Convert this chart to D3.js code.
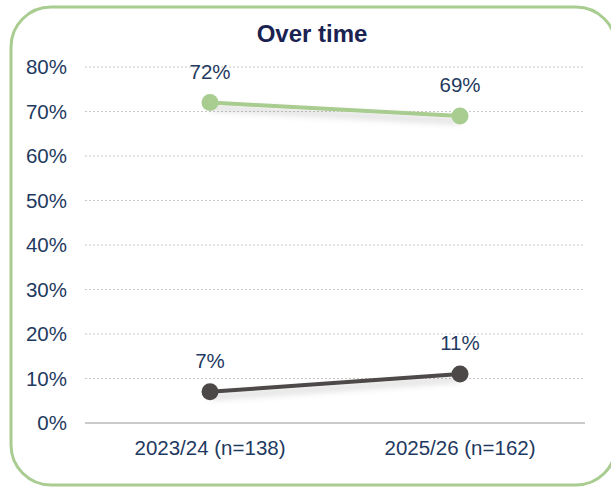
<!DOCTYPE html>
<html>
<head>
<meta charset="utf-8">
<script src="https://cdn.jsdelivr.net/npm/d3@7"></script>
<style>
  html, body { margin: 0; padding: 0; background: #fff; }
  svg { display: block; font-family: "Liberation Sans", Arial, sans-serif; }
</style>
</head>
<body>
<svg id="chart" width="611" height="487"></svg>
<script>
// Survey periods and the two tracked shares (percent)
const periods = ["2023/24 (n=138)", "2025/26 (n=162)"];
const upperSeries = [72, 69];
const lowerSeries = [7, 11];
const yTicks = [0, 10, 20, 30, 40, 50, 60, 70, 80];
const title = "Over time";

const svg = d3.select("#chart");
const plot = { left: 85, right: 585, top: 67, bottom: 423 };

const textColor = "#1f3a60";
const greenColor = "#a9cc90";
const darkColor = "#4d4848";
const fontFamily = "Liberation Sans, Arial, sans-serif";
const labelSize = 20.5;

// Soft drop shadow under the lines
const defs = svg.append("defs");
const f = defs.append("filter").attr("id", "shadow")
  .attr("x", "-10%").attr("y", "-60%").attr("width", "120%").attr("height", "300%");
f.append("feDropShadow").attr("dx", 0).attr("dy", 5).attr("stdDeviation", 3.5)
  .attr("flood-color", "#000").attr("flood-opacity", 0.2);

// Rounded frame (runs slightly past the right edge)
svg.append("rect")
  .attr("x", 11).attr("y", 7).attr("width", 605).attr("height", 478)
  .attr("rx", 40).attr("ry", 40)
  .attr("fill", "#fff").attr("stroke", greenColor).attr("stroke-width", 3);

const x = d3.scaleBand().domain(periods).range([plot.left, plot.right]);
const y = d3.scaleLinear().domain([0, 80]).range([plot.bottom, plot.top]);

// Title
svg.append("text")
  .attr("x", 312).attr("y", 42)
  .attr("text-anchor", "middle")
  .attr("font-size", 24).attr("font-weight", "bold")
  .attr("fill", "#1a2251")
  .text(title);

// Dotted gridlines
svg.append("g").selectAll("line")
  .data(yTicks.filter(d => d > 0))
  .join("line")
  .attr("x1", plot.left).attr("x2", plot.right - 2)
  .attr("y1", d => y(d)).attr("y2", d => y(d))
  .attr("stroke", "#c8c8c8").attr("stroke-width", 1)
  .attr("stroke-dasharray", "2,2");

// Baseline
svg.append("line")
  .attr("x1", plot.left).attr("x2", plot.right)
  .attr("y1", y(0)).attr("y2", y(0))
  .attr("stroke", "#bdb8b8").attr("stroke-width", 1.5);

// Y axis labels
const yAxis = d3.axisLeft(y).tickValues(yTicks).tickFormat(d => d + "%").tickSize(0).tickPadding(0);
const yg = svg.append("g").attr("transform", `translate(${plot.left - 18},0)`).call(yAxis);
yg.select(".domain").remove();
yg.selectAll("text").attr("font-size", labelSize).attr("fill", textColor)
  .attr("font-family", fontFamily);

// X axis labels
const xAxis = d3.axisBottom(x).tickSize(0).tickPadding(0);
const xg = svg.append("g").attr("transform", `translate(0,${y(0)})`).call(xAxis);
xg.select(".domain").remove();
xg.selectAll("text").attr("font-size", labelSize).attr("fill", textColor)
  .attr("font-family", fontFamily).attr("y", 32).attr("dy", null);

const cx = d => x(d) + x.bandwidth() / 2;
const line = d3.line().x(d => cx(d.p)).y(d => y(d.v));

function drawSeries(values, color) {
  const pts = periods.map((p, i) => ({ p, v: values[i] }));
  const g = svg.append("g");
  g.append("path").datum(pts)
    .attr("d", line)
    .attr("fill", "none").attr("stroke", color).attr("stroke-width", 4)
    .attr("filter", "url(#shadow)");
  g.selectAll("circle").data(pts).join("circle")
    .attr("cx", d => cx(d.p)).attr("cy", d => y(d.v)).attr("r", 8.5)
    .attr("fill", color);
  g.selectAll("text").data(pts).join("text")
    .attr("x", d => cx(d.p)).attr("y", d => y(d.v) - 24)
    .attr("text-anchor", "middle")
    .attr("font-size", labelSize).attr("fill", textColor)
    .text(d => d.v + "%");
}

drawSeries(upperSeries, greenColor);
drawSeries(lowerSeries, darkColor);
</script>
</body>
</html>
